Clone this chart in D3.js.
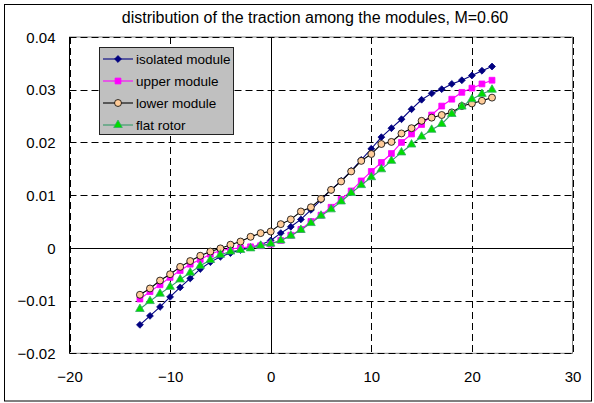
<!DOCTYPE html>
<html><head><meta charset="utf-8">
<script src="https://cdnjs.cloudflare.com/ajax/libs/d3/7.8.5/d3.min.js"></script>
<style>body{margin:0;background:#fff}svg{display:block}text{font-family:Arial,"Liberation Sans",sans-serif;fill:#000}</style>
</head><body><svg id="c" width="594" height="403"></svg>
<script>
const title = "distribution of the traction among the modules, M=0.60";
const xs = [-13,-12,-11,-10,-9,-8,-7,-6,-5,-4,-3,-2,-1,0,1,2,3,4,5,6,7,8,9,10,11,12,13,14,15,16,17,18,19,20,21,22];
const isolated = [-0.0146,-0.0129,-0.0112,-0.0093,-0.0075,-0.0058,-0.0040,-0.0027,-0.0017,-0.0010,-0.0004,0.0001,0.0006,0.0014,0.0028,0.0040,0.0054,0.0072,0.0091,0.0110,0.0127,0.0146,0.0167,0.0188,0.0210,0.0227,0.0244,0.0263,0.0281,0.0293,0.0301,0.0311,0.0318,0.0327,0.0336,0.0344];
const upper = [-0.0097,-0.0083,-0.0070,-0.0056,-0.0043,-0.0031,-0.0022,-0.0012,-0.0005,-0.0002,0.0000,0.0002,0.0004,0.0007,0.0014,0.0024,0.0035,0.0050,0.0062,0.0077,0.0092,0.0108,0.0127,0.0145,0.0162,0.0179,0.0200,0.0216,0.0234,0.0252,0.0269,0.0282,0.0295,0.0303,0.0311,0.0318];
const lower = [-0.0089,-0.0077,-0.0062,-0.0050,-0.0036,-0.0025,-0.0015,-0.0007,-0.0001,0.0006,0.0012,0.0021,0.0028,0.0031,0.0045,0.0054,0.0069,0.0077,0.0093,0.0110,0.0126,0.0145,0.0165,0.0178,0.0197,0.0201,0.0217,0.0227,0.0241,0.0247,0.0252,0.0257,0.0269,0.0274,0.0279,0.0285];
const flat = [-0.0116,-0.0101,-0.0087,-0.0074,-0.0060,-0.0047,-0.0034,-0.0023,-0.0013,-0.0007,-0.0004,-0.0001,0.0004,0.0008,0.0014,0.0023,0.0034,0.0047,0.0061,0.0073,0.0088,0.0104,0.0119,0.0134,0.0149,0.0165,0.0181,0.0196,0.0211,0.0224,0.0235,0.0254,0.0268,0.0282,0.0292,0.0300];
const seriesNames = ["isolated module","upper module","lower module","flat rotor"];
const xTicks = [-20,-10,0,10,20,30];
const yTicks = [-0.02,-0.01,0,0.01,0.02,0.03,0.04];

const styles = [
  {line:"#000080", fill:"#000080", stroke:"#000080", sym:d3.symbolDiamond2, size:30},
  {line:"#ff00ff", fill:"#ff00ff", stroke:"#ff00ff", sym:d3.symbolSquare, size:34},
  {line:"#000000", fill:"#ffcc99", stroke:"#000000", sym:d3.symbolCircle, size:38},
  {line:"#339966", fill:"#00dd00", stroke:"#33aa66", sym:d3.symbolTriangle, size:32}
];
const allSeries = [isolated, upper, lower, flat];

const svg = d3.select("#c");
const L=69.5, R=572.5, T=37, B=353.3;
const x = d3.scaleLinear().domain([-20,30]).range([L,R]);
const y = d3.scaleLinear().domain([-0.02,0.04]).range([B,T]);

svg.append("rect").attr("x",4.5).attr("y",4.5).attr("width",587).attr("height",396.5)
  .attr("fill","#fff").attr("stroke","#000").attr("stroke-width",1);

svg.append("text").attr("x",315).attr("y",23).attr("text-anchor","middle")
  .style("font-size","16px").text(title);

svg.append("rect").attr("x",L).attr("y",T).attr("width",R-L).attr("height",B-T)
  .attr("fill","#fff").attr("stroke","#808080");

const g = svg.append("g");
g.selectAll(".gx").data(xTicks.filter(v=>v!==0)).join("line")
  .attr("x1",d=>Math.round(x(d))+0.5).attr("x2",d=>Math.round(x(d))+0.5)
  .attr("y1",T).attr("y2",B).attr("stroke","#000").attr("stroke-dasharray","7,4");
g.selectAll(".gy").data(yTicks.filter(v=>v!==0)).join("line")
  .attr("y1",d=>Math.round(y(d))+0.5).attr("y2",d=>Math.round(y(d))+0.5)
  .attr("x1",L).attr("x2",R).attr("stroke","#000").attr("stroke-dasharray","7,4");
g.append("line").attr("x1",Math.round(x(0))+0.5).attr("x2",Math.round(x(0))+0.5)
  .attr("y1",T).attr("y2",B).attr("stroke","#000");
g.append("line").attr("y1",Math.round(y(0))+0.5).attr("y2",Math.round(y(0))+0.5)
  .attr("x1",L).attr("x2",R).attr("stroke","#000");
g.append("line").attr("x1",L).attr("x2",L).attr("y1",T).attr("y2",B).attr("stroke","#000");

const yAxis = d3.axisLeft(y).tickValues(yTicks).tickSize(0).tickPadding(14)
  .tickFormat(d=> d===0 ? "0" : d3.format(".2f")(d));
svg.append("g").attr("transform",`translate(${L},0)`).call(yAxis)
  .call(s=>s.select(".domain").remove())
  .selectAll("text").style("font-size","15px").attr("dy","0.35em");
const xAxis = d3.axisBottom(x).tickValues(xTicks).tickSize(0).tickPadding(18).tickFormat(d3.format("d"));
svg.append("g").attr("transform",`translate(0,${B})`).call(xAxis)
  .call(s=>s.select(".domain").remove())
  .selectAll("text").style("font-size","15px");

const line = d3.line().x(d=>x(d[0])).y(d=>y(d[1]));
allSeries.forEach((vals,i)=>{
  const st = styles[i];
  const pts = xs.map((xv,j)=>[xv, vals[j]]);
  svg.append("path").datum(pts).attr("d",line).attr("fill","none")
    .attr("stroke",st.line).attr("stroke-width",1.1);
  svg.append("g").selectAll("path").data(pts).join("path")
    .attr("transform",d=>`translate(${x(d[0])},${y(d[1])})`)
    .attr("d",d3.symbol().type(st.sym).size(st.size))
    .attr("fill",st.fill).attr("stroke",st.stroke).attr("stroke-width",0.8);
});

const lg = svg.append("g");
lg.append("rect").attr("x",99.5).attr("y",47.5).attr("width",134).attr("height",87)
  .attr("fill","#c0c0c0").attr("stroke","#222");
const rowsY = [59,81,103,125];
seriesNames.forEach((n,i)=>{
  const st = styles[i];
  lg.append("line").attr("x1",103).attr("x2",133).attr("y1",rowsY[i]).attr("y2",rowsY[i])
    .attr("stroke",st.line).attr("stroke-width",1.1);
  lg.append("path").attr("transform",`translate(118,${rowsY[i]})`)
    .attr("d",d3.symbol().type(st.sym).size(st.size)).attr("fill",st.fill).attr("stroke",st.stroke).attr("stroke-width",0.8);
  lg.append("text").attr("x",136).attr("y",rowsY[i]).attr("dy","0.35em")
    .style("font-size","13.5px").text(n);
});
</script></body></html>
